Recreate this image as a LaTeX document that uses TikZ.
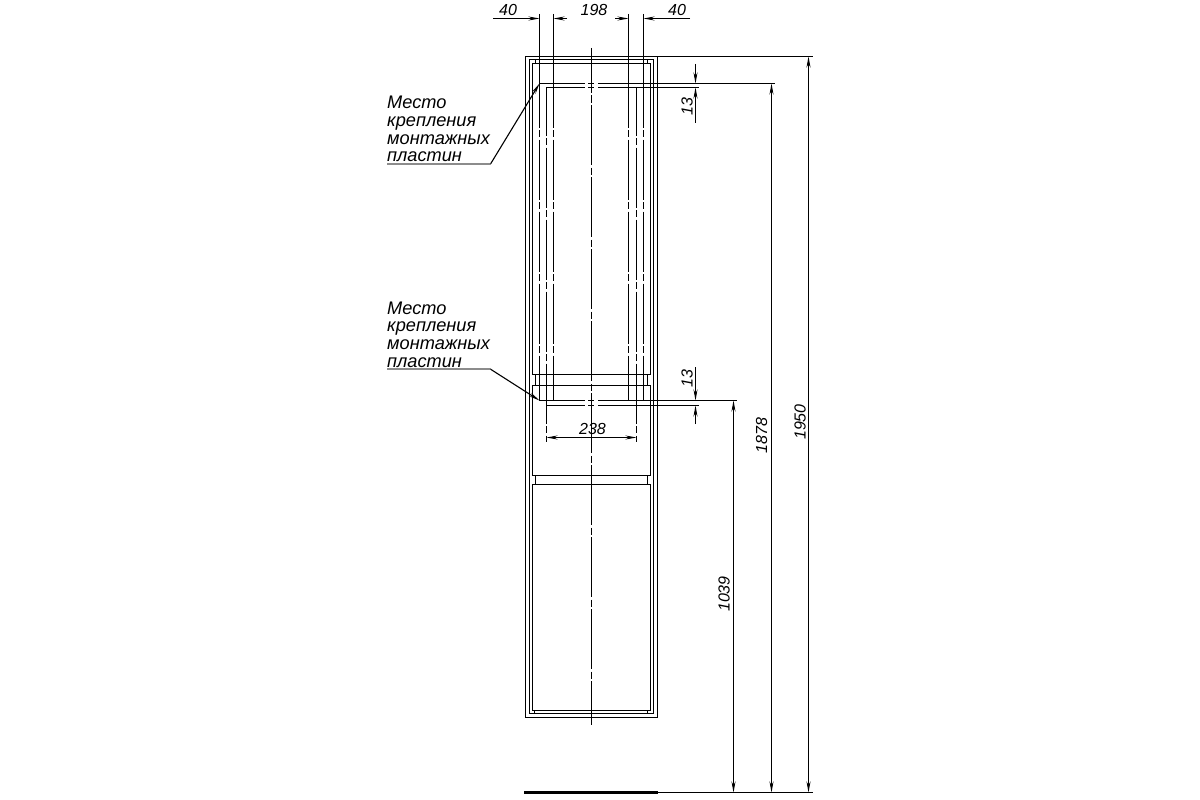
\documentclass[tikz,border=0pt]{standalone}
\usepackage{fontspec}
\setmainfont{Liberation Sans}
\usetikzlibrary{arrows.meta}
\newcommand{\SplitLine}[3]{
  \draw[part] (#2,#1) -- (585,#1) (588,#1) -- (594,#1) (598,#1) -- (#3,#1);
}
\newcommand{\AxisLine}[4]{
  \draw[part] (#1,#2) -- (#1,#3);
  \draw[part,axis] (#1,#3) -- (#1,#4);
}
\begin{document}
\begin{tikzpicture}[
    x=1pt,
    y=-1pt,
    >={Stealth[length=11pt,width=4pt]},
    part/.style={line width=1.2pt,black},
    axis/.style={dash pattern=on 60pt off 2.5pt on 7pt off 2.5pt,dash phase=60pt},
    dim/.style={line width=1.1pt,black},
    shelf/.style={line width=2pt,black!45},
    size/.style={font=\itshape\fontsize{16}{16}\selectfont,inner sep=0pt},
    note/.style={font=\itshape\fontsize{18.2}{17.6}\selectfont,inner sep=0pt,align=left,anchor=south west}
    ]

    \useasboundingbox (0,0) rectangle (1200,800);

    \draw[part] (525.5,56.5) rectangle (657.5,717.5);
    \draw[part] (529.5,59.5) rectangle (653.5,713.5);
    \draw[part] (532.5,63.5) rectangle (650.5,374.5);
    \draw[part] (535.5,59.5) -- (535.5,63.5) (647.5,59.5) -- (647.5,63.5);
    \draw[part] (535.5,374.5) rectangle (647.5,385.5);
    \draw[part] (532.5,385.5) rectangle (650.5,475.5);
    \draw[part] (535.5,475.5) rectangle (647.5,484.5);
    \draw[part] (532.5,484.5) rectangle (650.5,710.5);
    \draw[part] (534.5,710.5) rectangle (647.5,713.5);

    \AxisLine{591.5}{48}{93}{725}
    \foreach \x in {539.5,553.5,628.5,643.5} {
      \AxisLine{\x}{14}{127.5}{400.5}
    }
    \foreach \x in {546.5,636.5} {
      \AxisLine{\x}{87.5}{135.5}{442}
    }

    \SplitLine{83.5}{539.5}{775}
    \SplitLine{87.5}{546.5}{699}
    \SplitLine{400.5}{539.5}{737}
    \SplitLine{405.5}{546.5}{699}
    \draw[line width=1.8pt] (598,400.5) -- (737,400.5);
    \draw[part] (657.5,56.5) -- (812.7,56.5);
    \draw[line width=2.4pt] (524,792.5) -- (658,792.5);
    \draw[part] (658,792.5) -- (812.7,792.5);

    \draw[dim,->] (493,18.5) -- (539.5,18.5);
    \draw[dim,->] (567,18.5) -- (553.5,18.5);
    \draw[dim,->] (615,18.5) -- (628.5,18.5);
    \draw[dim,->] (690,18.5) -- (643.5,18.5);
    \draw[dim,->] (695.5,64) -- (695.5,83.5);
    \draw[dim,->] (695.5,122.7) -- (695.5,87.5);
    \draw[dim,->] (695.5,367) -- (695.5,400.5);
    \draw[dim,->] (695.5,424) -- (695.5,405.5);
    \draw[dim,<->] (546.5,437.5) -- (636.5,437.5);
    \draw[dim,<->] (733.5,400.5) -- (733.5,792.5);
    \draw[dim,<->] (771.5,83.5) -- (771.5,792.5);
    \draw[dim,<->,line width=1.4pt] (808.5,56.5) -- (808.5,792.5);

    \node[size] (widthLeft) at (508,9.5) {40};
    \node[size] (widthMid) at (594,9.5) {198};
    \node[size] (widthRight) at (677,9.5) {40};
    \node[size] (plateWidth) at (592.5,428.5) {238};
    \node[size,rotate=90] (gapTop) at (687,106.5) {13};
    \node[size,rotate=90] (gapLow) at (687,378.5) {13};
    \node[size,rotate=90] (height1039) at (724,594) {1039};
    \node[size,rotate=90] (height1878) at (761.5,435.5) {1878};
    \node[size,rotate=90] (height1950) at (800,422) {1950};

    \node[note] (noteTop) at (387,162) {Место\\крепления\\монтажных\\пластин};
    \node[note] (noteLow) at (387,367.5) {Место\\крепления\\монтажных\\пластин};

    \coordinate (shelfTop) at (490.7,163.7);
    \coordinate (shelfLow) at (490.7,369.3);
    \coordinate (mountTop) at (539.5,83.5);
    \coordinate (mountLow) at (539.5,400.5);

    \draw[shelf] (387,163.7) -- (shelfTop);
    \draw[shelf] (387,369.3) -- (shelfLow);
    \draw[dim,->] (shelfTop) -- (mountTop);
    \draw[dim,->] (shelfLow) -- (mountLow);

  \end{tikzpicture}
\end{document}
